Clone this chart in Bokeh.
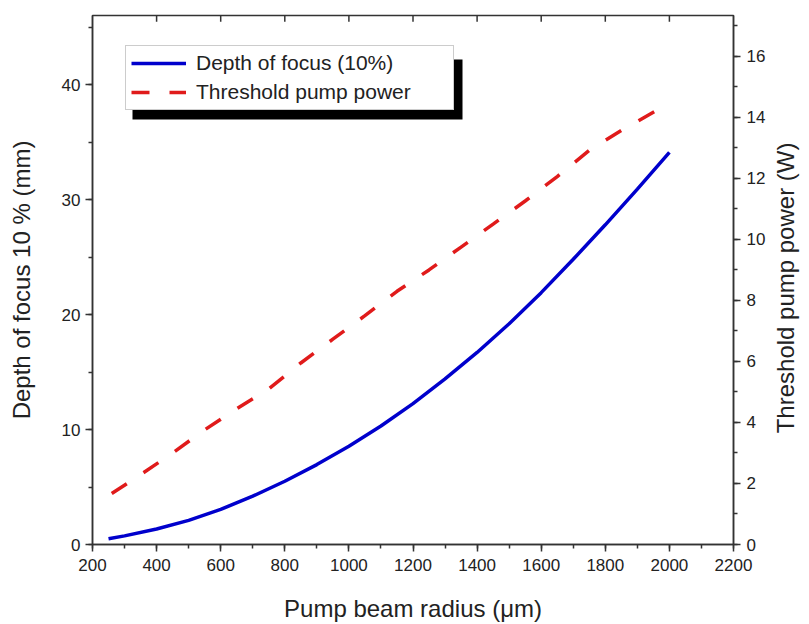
import math
from bokeh.plotting import figure
from bokeh.models import (Range1d, LinearAxis, SingleIntervalTicker, Legend, LegendItem,
                          BoxAnnotation, Label)
from bokeh.embed import file_html
from bokeh.resources import INLINE

# ---- data ----
radius_depth = [250, 300, 400, 500, 600, 700, 800, 900, 1000, 1100, 1200, 1300,
                1400, 1500, 1600, 1700, 1800, 1900, 2000]
depth_of_focus = [0.5, 0.75, 1.35, 2.1, 3.05, 4.2, 5.5, 6.95, 8.55, 10.3, 12.25, 14.4,
                  16.7, 19.2, 21.9, 24.8, 27.8, 30.9, 34.1]

radius_power = [260, 360, 450, 550, 650, 750, 850, 950, 1050, 1150, 1250, 1350,
                1450, 1550, 1650, 1750, 1850, 1955]
threshold_power = [1.67, 2.36, 3.0, 3.76, 4.45, 5.1, 5.95, 6.73, 7.5, 8.3, 9.0, 9.75,
                   10.5, 11.26, 12.06, 12.92, 13.57, 14.2]

x_ticks_top = [400, 600, 800, 1000, 1200, 1400, 1600, 1800, 2000]

label_depth = "Depth of focus (10%)"
label_power = "Threshold pump power"
x_title = "Pump beam radius (\u03bcm)"
y_title = "Depth of focus 10 % (mm)"
y2_title = "Threshold pump power (W)"

FONT = "Liberation Sans"
AX = "#333333"
TXT = "#222222"

x_rng = Range1d(200, 2200)
y_rng = Range1d(0, 46)

p = figure(width=809, height=624, output_backend="svg", toolbar_location=None,
           x_range=x_rng, y_range=y_rng,
           min_border_left=92, min_border_right=76, min_border_top=15, min_border_bottom=79,
           background_fill_color="white", border_fill_color="white")
p.extra_y_ranges = {"power": Range1d(0, 17.34)}
p.grid.visible = False
p.outline_line_color = AX
p.outline_line_width = 1.5


def style_axis(ax, tick_in=0, tick_out=7):
    ax.axis_line_color = AX
    ax.axis_line_width = 1.5
    ax.major_tick_line_color = AX
    ax.major_tick_line_width = 1.5
    ax.minor_tick_line_color = AX
    ax.minor_tick_line_width = 1.5
    ax.major_tick_in = tick_in
    ax.major_tick_out = tick_out
    ax.minor_tick_in = 0
    ax.minor_tick_out = 4
    ax.major_label_text_font = FONT
    ax.major_label_text_font_size = "17px"
    ax.major_label_text_color = TXT
    ax.axis_label_text_font = FONT
    ax.axis_label_text_font_size = "24px"
    ax.axis_label_text_font_style = "normal"
    ax.axis_label_text_color = TXT


xa = p.xaxis[0]
xa.ticker = SingleIntervalTicker(interval=200, num_minor_ticks=2)
xa.axis_label = x_title
style_axis(xa)
xa.major_label_standoff = 7
xa.axis_label_standoff = 21

ya = p.yaxis[0]
ya.ticker = SingleIntervalTicker(interval=10, num_minor_ticks=2)
ya.axis_label = y_title
style_axis(ya)
ya.major_label_standoff = 5
ya.axis_label_standoff = 24

ra = LinearAxis(y_range_name="power",
                ticker=SingleIntervalTicker(interval=2, num_minor_ticks=2))
style_axis(ra)
ra.major_label_standoff = 6
p.add_layout(ra, "right")

# right-axis title reading bottom to top, placed just right of the tick labels
span_x = x_rng.end - x_rng.start
right_title = Label(x=x_rng.end + 0.081 * span_x, y=0.485 * y_rng.end,
                    text=y2_title, angle=math.pi / 2,
                    text_align="center", text_baseline="middle",
                    text_font=FONT, text_font_size="24px", text_color=TXT)
p.add_layout(right_title, "right")

# inward ticks along the top edge of the frame
p.segment(x0=x_ticks_top, x1=x_ticks_top, y0=[y_rng.end] * len(x_ticks_top),
          y1=[y_rng.end - 0.55] * len(x_ticks_top), line_color=AX, line_width=1.5)

r1 = p.line(radius_depth, depth_of_focus, line_color="#0000cc", line_width=3.5)
r2 = p.line(radius_power, threshold_power, y_range_name="power", line_color="#e01b1b",
            line_width=3.5, line_dash="18 20")

# legend shadow (screen units relative to the frame)
shadow = BoxAnnotation(left=40, right=370, top=485, bottom=425,
                       left_units="screen", right_units="screen",
                       top_units="screen", bottom_units="screen",
                       fill_color="black", fill_alpha=1.0, line_color=None)
p.add_layout(shadow)

legend = Legend(items=[LegendItem(label=label_depth, renderers=[r1]),
                       LegendItem(label=label_power, renderers=[r2])],
                location=(33, 434), margin=0, padding=5, spacing=5,
                glyph_width=55, glyph_height=22, label_height=22, label_width=252,
                label_standoff=10,
                label_text_font=FONT, label_text_font_size="21px", label_text_color=TXT,
                border_line_color="#999999", border_line_width=1,
                background_fill_color="white", background_fill_alpha=1.0)
p.add_layout(legend, "center")

open("out.html", "w").write(file_html(p, INLINE))
